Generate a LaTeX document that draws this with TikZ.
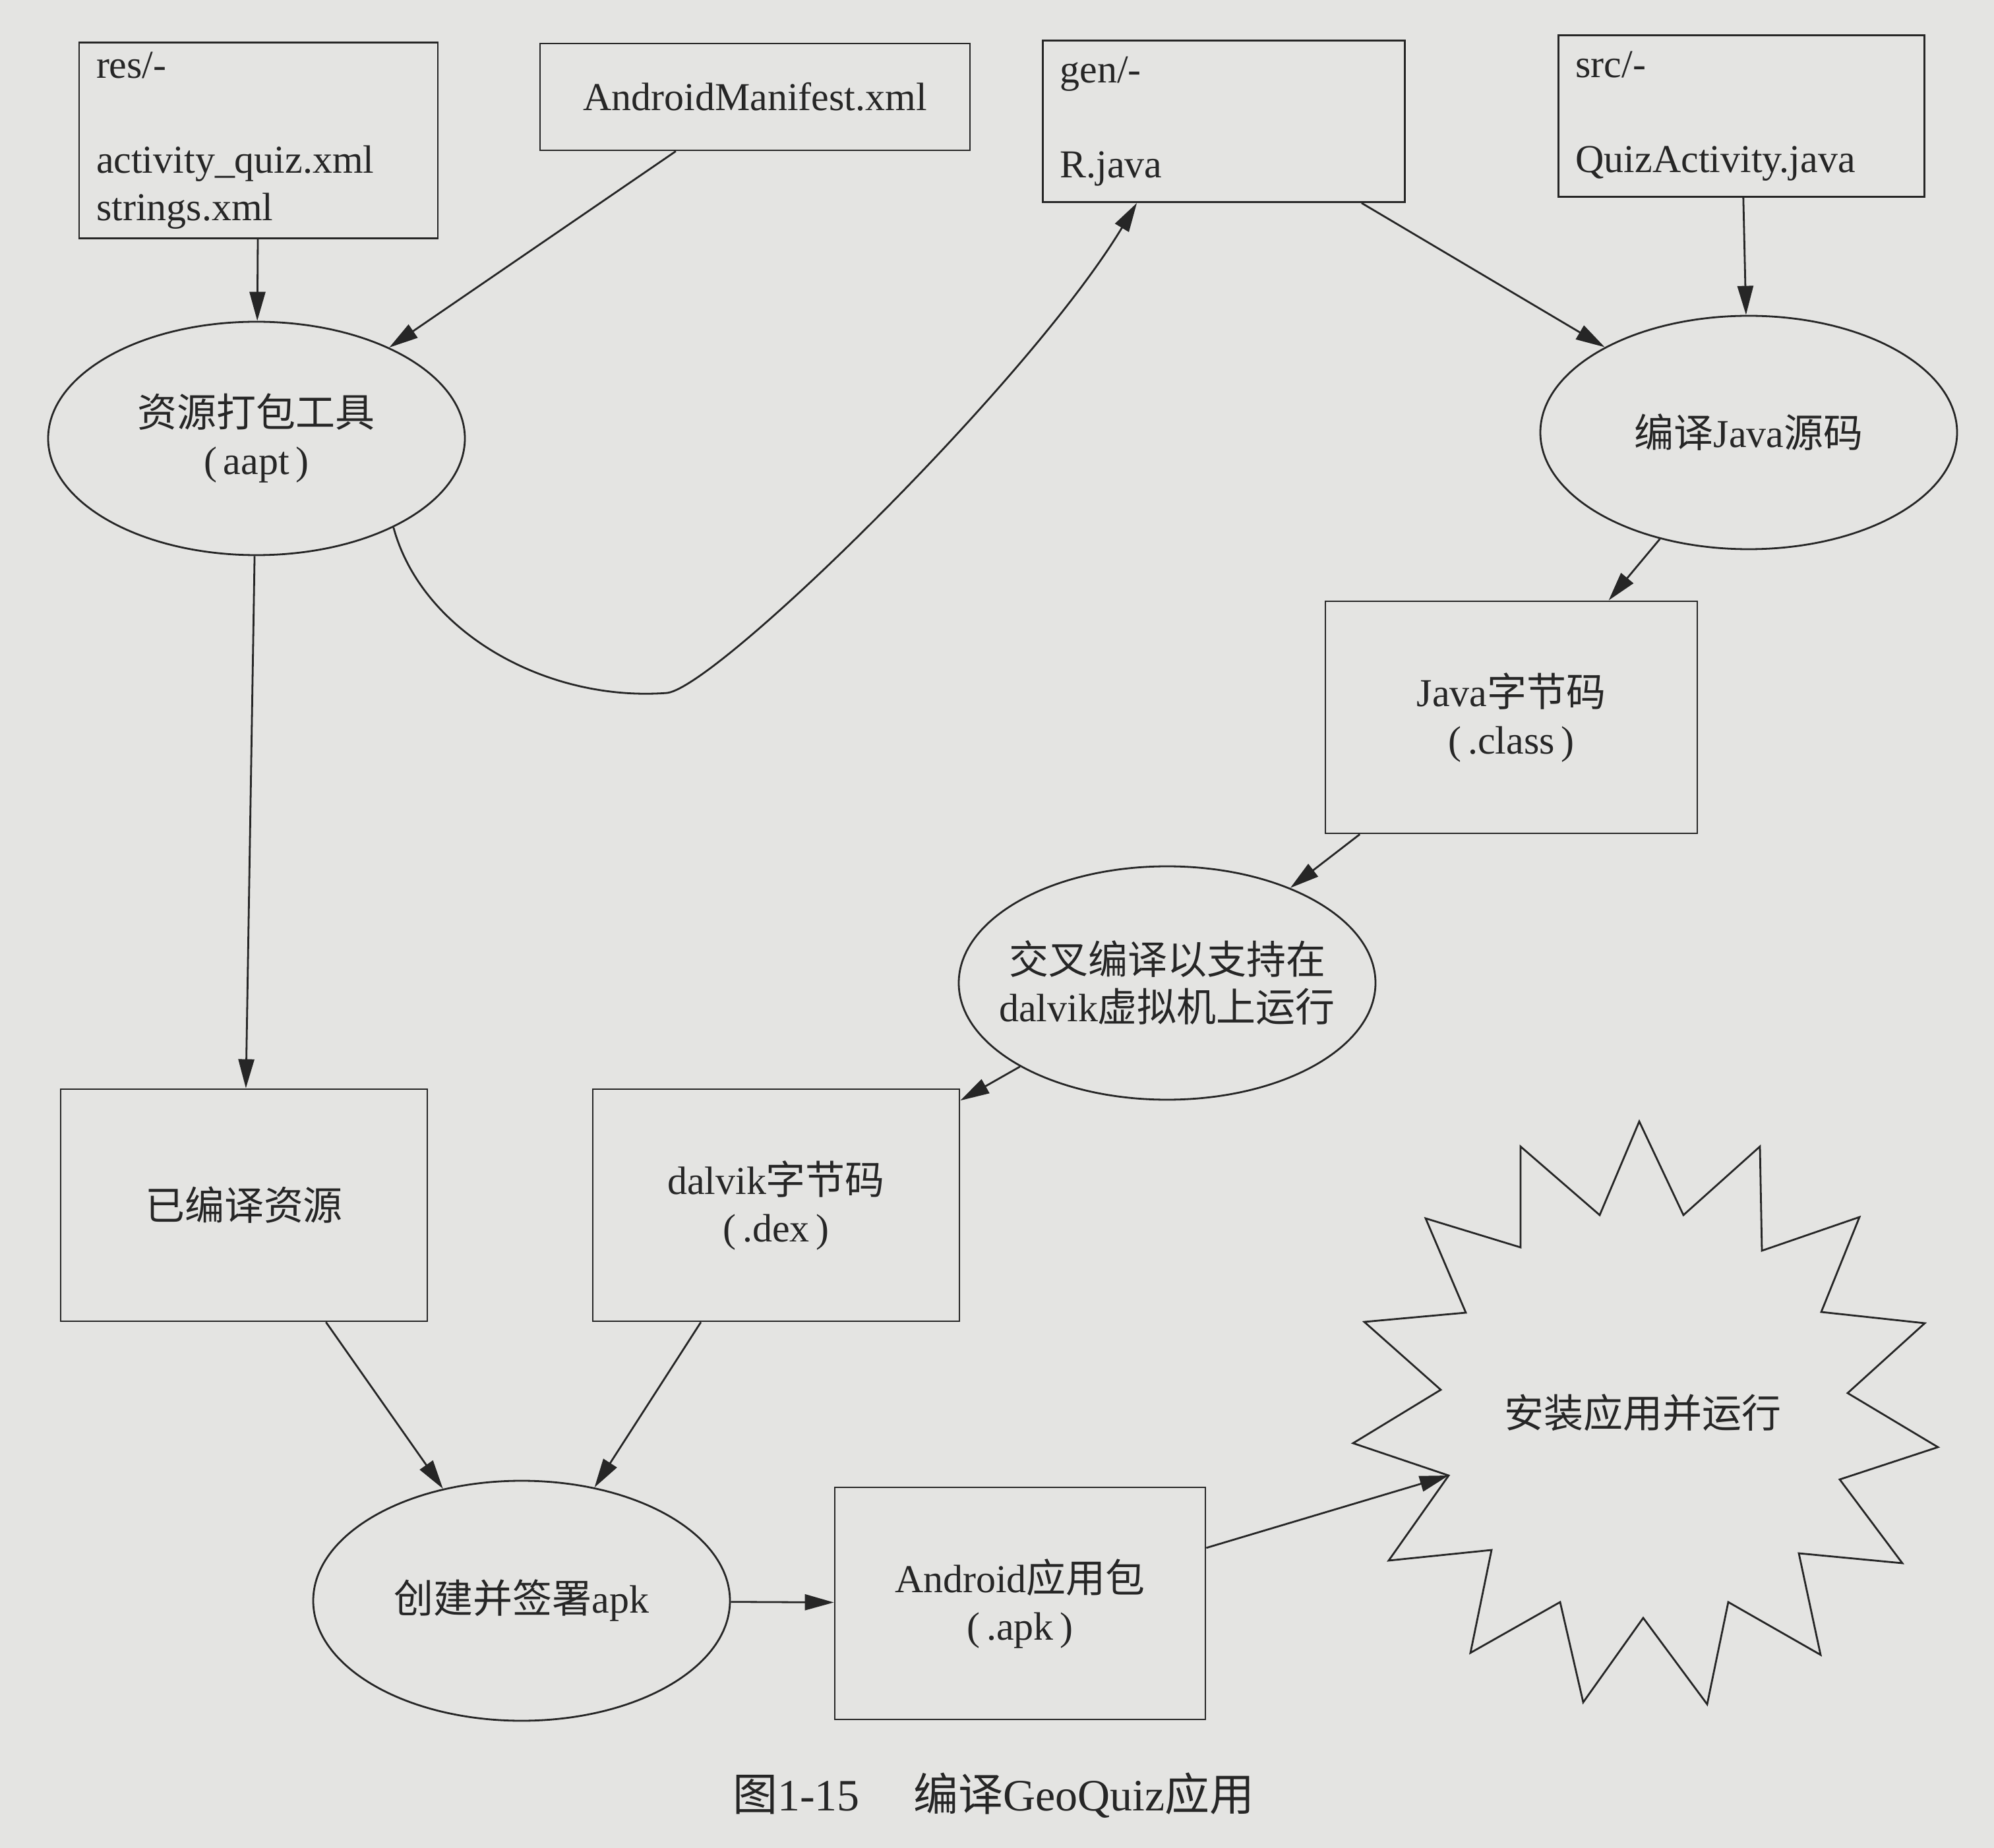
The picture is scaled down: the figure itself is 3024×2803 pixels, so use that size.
\documentclass[tikz,border=0pt]{standalone}
\usepackage{fontspec}
\setmainfont{Liberation Serif}
\newfontfamily\cjk{Noto Sans CJK SC}
\usetikzlibrary{arrows.meta}
\usetikzlibrary{shapes.geometric}
\usepackage{xcolor}
\newcommand{\zh}[1]{{\cjk #1}}
\definecolor{paper}{RGB}{228,228,226}
\definecolor{ink}{RGB}{38,38,38}

\tikzset{
  box/.style={draw=ink, line width=0.7pt, rectangle, minimum width=139pt, minimum height=88pt, inner sep=0pt, align=center},
  proc/.style={draw=ink, line width=0.7pt, ellipse, minimum width=158pt, minimum height=88.5pt, inner sep=0pt, align=center},
  dir/.style={draw=ink, line width=0.7pt, rectangle, align=left, inner xsep=6.5pt, inner ysep=0pt},
  arr/.style={draw=ink, line width=0.7pt, -{Triangle[length=11pt,width=6pt]}},
}

\begin{document}
\begin{tikzpicture}[x=0.25pt,y=0.25pt,yscale=-1,xscale=1, font=\fontsize{15pt}{18pt}\selectfont, text=ink]
%set diagram left start at 0, and has height of 2803
\path[fill=paper] (0,0) rectangle (3024,2803);

%Flowchart: Process
\node[dir, text width=123pt, minimum height=74.25pt] (res) at (392,213) {res/-\\[18pt]activity\_quiz.xml\\strings.xml};
%Flowchart: Process
\node[box, minimum width=163pt, minimum height=40.5pt] (mf) at (1145,147) {AndroidManifest.xml};
%Flowchart: Process
\node[dir, text width=124.25pt, minimum height=61.25pt] (gen) at (1856,184) {gen/-\\[18pt]R.java};
%Flowchart: Process
\node[dir, text width=125.75pt, minimum height=61.25pt] (src) at (2641,176) {src/-\\[18pt]QuizActivity.java};

%Shape: Ellipse
\node[proc] (aapt) at (389,665) {\zh{资源打包工具}\\(\,aapt\,)};
%Shape: Ellipse
\node[proc] (javac) at (2652,656) {\zh{编译}Java\zh{源码}};
%Flowchart: Process
\node[box, minimum width=141pt] (jclass) at (2292,1088) {Java\zh{字节码}\\(\,.class\,)};
%Shape: Ellipse
\node[proc, inner xsep=-12pt] (dx) at (1770,1491) {\zh{交叉编译以支持在}\\dalvik\zh{虚拟机上运行}};
%Flowchart: Process
\node[box] (built) at (370,1828) {\zh{已编译资源}};
%Flowchart: Process
\node[box] (dex) at (1177,1828) {dalvik\zh{字节码}\\(\,.dex\,)};
%Shape: Ellipse
\node[proc, minimum height=91pt] (sign) at (791,2428) {\zh{创建并签署}apk};
%Flowchart: Process
\node[box, minimum width=140.5pt] (apk) at (1547,2432) {Android\zh{应用包}\\(\,.apk\,)};

%Shape: Star
\draw[draw=ink, line width=0.7pt] (2486,1701) -- (2553,1843) -- (2669,1739) -- (2672,1897) -- (2820,1846) -- (2762,1990) -- (2919,2007) -- (2802,2113) -- (2939,2195) -- (2790,2244) -- (2885,2371) -- (2728,2356) -- (2761,2510) -- (2621,2430) -- (2589,2585) -- (2492,2454) -- (2401,2582) -- (2366,2430) -- (2230,2507) -- (2262,2351) -- (2106,2367) -- (2197,2238) -- (2052,2189) -- (2185,2108) -- (2069,2005) -- (2223,1991) -- (2162,1848) -- (2306,1892) -- (2306,1739) -- (2426,1843) -- cycle ;
\node (run) at (2491,2143) {\zh{安装应用并运行}};
\coordinate (runin) at (2197,2238);

%Straight Lines
\draw[arr] (res) -- (aapt);
\draw[arr] (mf) -- (aapt);
%Curve Lines
\draw[arr] (aapt.-33) .. controls (640,960) and (830,1065) .. (1012,1051) .. controls (1090,1040) and (1560,580) .. ([xshift=36pt]gen.south west);
%Straight Lines
\draw[arr] (gen) -- (javac);
\draw[arr] (src) -- (javac);
\draw[arr] (javac) -- (jclass);
\draw[arr] (jclass) -- (dx);
\draw[arr] (dx) -- (dex);
\draw[arr] (aapt) -- (built);
\draw[arr] (built) -- (sign);
\draw[arr] (dex) -- (sign);
\draw[arr] (sign) -- (apk);
\draw[arr] (apk) -- (runin);

% Text Node
\node[font=\fontsize{17pt}{20pt}\selectfont] (cap) at (1507,2723) {\zh{图}1-15\hspace{1.2em}\zh{编译}GeoQuiz\zh{应用}};

\end{tikzpicture}
\end{document}
